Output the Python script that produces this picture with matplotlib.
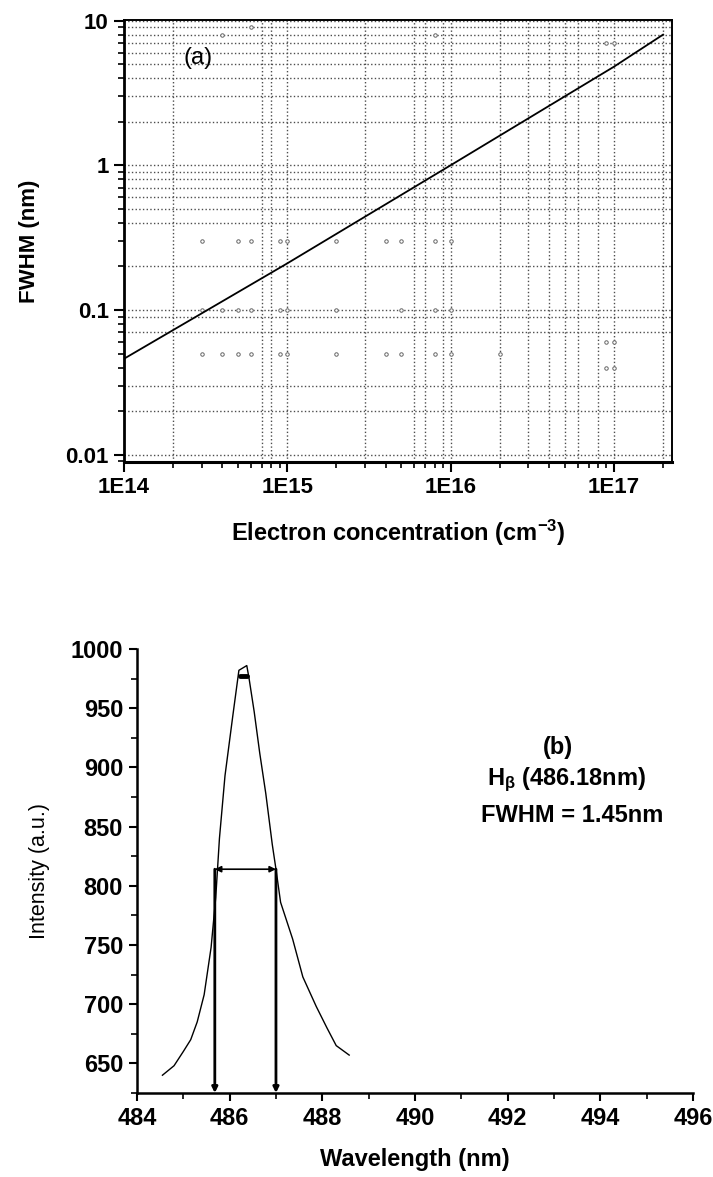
import matplotlib
matplotlib.use("Agg")
import matplotlib.pyplot as plt
from matplotlib.ticker import FixedLocator, FuncFormatter, MultipleLocator, NullFormatter, LogLocator

plt.rcParams['font.family'] = ['Liberation Sans', 'DejaVu Sans']
plt.rcParams['mathtext.fontset'] = 'custom'
plt.rcParams['mathtext.rm'] = 'Liberation Sans'
plt.rcParams['mathtext.bf'] = 'Liberation Sans:bold'
plt.rcParams['mathtext.it'] = 'Liberation Sans:italic'

# ---- panel (a): FWHM vs electron concentration ----
ne_line = [1e14, 1e15, 1e16, 1e17, 2e17]
fwhm_line = [0.046, 0.21, 1.0, 4.8, 8.0]

# grid lines as they appear in the scanned figure
grid_y = [0.01, 0.02, 0.03, 0.07, 0.09, 0.1, 0.2, 0.4, 0.5, 0.6, 0.7, 0.8, 0.9,
          1, 2, 3, 4, 5, 6, 7, 8, 9, 10]
grid_x = [2e14, 7e14, 8e14, 1e15, 3e15, 6e15, 7e15, 9e15, 1e16, 2e16, 3e16,
          4e16, 5e16, 6e16, 8e16, 1e17, 2e17]

# stray dot markers in the scan
dots_x_03 = [3e14, 5e14, 6e14, 9e14, 1e15, 2e15, 4e15, 5e15, 8e15, 1e16]
dots_x_01 = [3e14, 4e14, 5e14, 6e14, 9e14, 1e15, 2e15, 5e15, 8e15, 1e16]
dots_x_005 = [3e14, 4e14, 5e14, 6e14, 9e14, 1e15, 2e15, 4e15, 5e15, 8e15, 1e16, 2e16]
dots_x_extra = [9e16, 1e17, 9e16, 1e17, 6e14, 4e14, 8e15, 9e16, 1e17]
dots_y_extra = [0.06, 0.06, 0.04, 0.04, 9, 8, 8, 7, 7]

x_major = [1e14, 1e15, 1e16, 1e17]
x_major_labels = ["1E14", "1E15", "1E16", "1E17"]
y_major = [0.01, 0.1, 1, 10]
y_major_labels = ["0.01", "0.1", "1", "10"]

# ---- panel (b): H-beta line profile ----
wl = [484.55, 484.8, 485.0, 485.16, 485.3, 485.45, 485.6, 485.7, 485.78, 485.9,
      486.07, 486.2, 486.37, 486.42, 486.53, 486.65, 486.78, 486.92, 487.0,
      487.1, 487.36, 487.58, 487.87, 488.1, 488.3, 488.58]
intensity = [640, 648, 660, 670, 685, 708, 748, 790, 840, 893,
             944, 982, 986, 975, 947, 912, 878, 835, 814,
             786, 755, 723, 698, 680, 665, 657]
peak_x = [486.22, 486.38]
peak_y = [977, 977]
fwhm_left = 485.68
fwhm_right = 487.0
half_max = 814


def draw_panel_a(fig):
    ax = fig.add_axes([0.1739, 0.6075, 0.7686, 0.3755])
    ax.set_xscale('log')
    ax.set_yscale('log')

    for gy in grid_y:
        ax.axhline(gy, color='0.3', ls=':', lw=1.0, zorder=1)
    for gx in grid_x:
        ax.axvline(gx, color='0.3', ls=':', lw=1.0, zorder=1)

    dot_kw = dict(ls='none', marker='o', ms=2.5, mfc='white', mec='0.4', mew=0.7, zorder=2)
    ax.plot(dots_x_03, [0.3] * len(dots_x_03), **dot_kw)
    ax.plot(dots_x_01, [0.1] * len(dots_x_01), **dot_kw)
    ax.plot(dots_x_005, [0.05] * len(dots_x_005), **dot_kw)
    ax.plot(dots_x_extra, dots_y_extra, **dot_kw)

    ax.plot(ne_line, fwhm_line, color='black', lw=1.3, zorder=3)

    ax.set_xlim(1e14, 2.27e17)
    ax.set_ylim(0.0089, 10.1)

    ax.xaxis.set_major_locator(FixedLocator(x_major))
    ax.xaxis.set_major_formatter(FuncFormatter(lambda v, p: x_major_labels[x_major.index(v)] if v in x_major else ""))
    ax.xaxis.set_minor_locator(LogLocator(base=10, subs=range(2, 10)))
    ax.xaxis.set_minor_formatter(NullFormatter())
    ax.yaxis.set_major_locator(FixedLocator(y_major))
    ax.yaxis.set_major_formatter(FuncFormatter(lambda v, p: y_major_labels[y_major.index(v)] if v in y_major else ""))
    ax.yaxis.set_minor_locator(LogLocator(base=10, subs=range(2, 10)))
    ax.yaxis.set_minor_formatter(NullFormatter())

    ax.tick_params(which='major', direction='out', length=7, width=1.5, labelsize=16, pad=4)
    ax.tick_params(which='minor', direction='out', length=4, width=1.2)
    for lab in ax.get_xticklabels() + ax.get_yticklabels():
        lab.set_fontweight('bold')
    for sp in ax.spines.values():
        sp.set_linewidth(1.4)
    ax.spines['bottom'].set_linewidth(2.2)
    ax.spines['left'].set_linewidth(2.0)

    ax.set_xlabel("Electron concentration (cm$^{\\mathbf{-3}}$)", fontsize=17, fontweight='bold', labelpad=14)
    ax.set_ylabel("FWHM (nm)", fontsize=16, fontweight='bold', labelpad=18)
    ax.text(0.108, 0.915, "(a)", transform=ax.transAxes, fontsize=17, ha='left', va='center')


def draw_panel_b(fig):
    ax = fig.add_axes([0.1921, 0.0714, 0.7798, 0.3772])
    ax.plot(wl, intensity, color='black', lw=1.0)
    ax.plot(peak_x, peak_y, color='black', lw=3.5, solid_capstyle='round')

    # FWHM arrows
    ax.annotate('', xy=(fwhm_right, half_max), xytext=(fwhm_left, half_max),
                arrowprops=dict(arrowstyle='<|-|>', color='black', lw=1.2, mutation_scale=9,
                                shrinkA=0, shrinkB=0))
    for xv in [fwhm_left, fwhm_right]:
        ax.annotate('', xy=(xv, 625), xytext=(xv, half_max),
                    arrowprops=dict(arrowstyle='-|>', color='black', lw=2.0, mutation_scale=8,
                                    shrinkA=0, shrinkB=0))

    ax.set_xlim(484, 496)
    ax.set_ylim(625, 1000)
    ax.xaxis.set_major_locator(MultipleLocator(2))
    ax.xaxis.set_minor_locator(MultipleLocator(1))
    ax.yaxis.set_major_locator(MultipleLocator(50))
    ax.yaxis.set_minor_locator(MultipleLocator(25))
    ax.set_yticks([650, 700, 750, 800, 850, 900, 950, 1000])

    ax.spines['top'].set_visible(False)
    ax.spines['right'].set_visible(False)
    ax.spines['left'].set_linewidth(1.8)
    ax.spines['bottom'].set_linewidth(1.8)
    ax.tick_params(which='major', direction='out', length=6, width=1.5, labelsize=17, pad=4)
    ax.tick_params(which='minor', direction='out', length=4, width=1.2)
    for lab in ax.get_xticklabels() + ax.get_yticklabels():
        lab.set_fontweight('bold')

    ax.set_xlabel("Wavelength (nm)", fontsize=17, fontweight='bold', labelpad=13)
    ax.set_ylabel("Intensity (a.u.)", fontsize=15.5, labelpad=15)

    ax.text(0.757, 0.779, "(b)", transform=ax.transAxes, fontsize=17, fontweight='bold', ha='center', va='center')
    ax.text(0.773, 0.705, "H$_{\\mathbf{\\beta}}$ (486.18nm)", transform=ax.transAxes, fontsize=17,
            fontweight='bold', ha='center', va='center')
    ax.text(0.782, 0.626, "FWHM = 1.45nm", transform=ax.transAxes, fontsize=17, fontweight='bold',
            ha='center', va='center')


def main():
    fig = plt.figure(figsize=(7.13, 11.77), dpi=100)
    draw_panel_a(fig)
    draw_panel_b(fig)
    fig.savefig("out.png", dpi=100)
    plt.close(fig)


if __name__ == "__main__":
    main()
